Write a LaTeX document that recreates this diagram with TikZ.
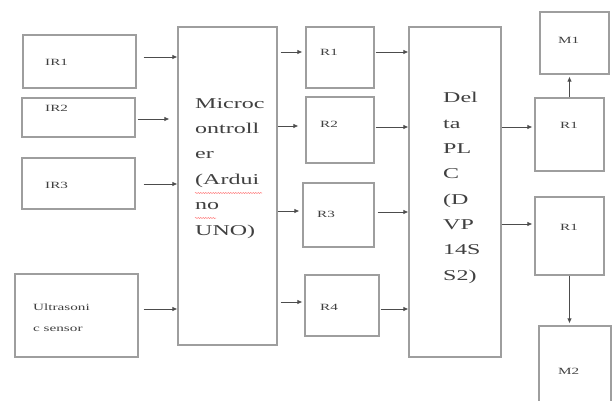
\documentclass[tikz,border=0pt]{standalone}
\usepackage{fontspec}
\setmainfont[FakeStretch=1.6]{Liberation Serif}
\usetikzlibrary{arrows.meta,decorations.pathmorphing}
\begin{document}
\begin{tikzpicture}[x=1pt,y=-1pt,
  box/.style={draw=black!38, line width=1.2pt, inner sep=0pt, fill=white},
  big/.style={inner sep=0pt, anchor=base west, align=left, text=black!75,
    font=\fontsize{15}{25.4}\selectfont},
  small/.style={inner sep=0pt, anchor=base west, align=left, text=black!75,
    font=\fontsize{9.5}{21}\selectfont},
  conn/.style={draw=black!70, line width=0.8pt, -{Latex[length=5pt,width=4.5pt]}},
  spell/.style={draw=red!55, line width=0.5pt, decorate,
    decoration={snake, amplitude=0.5pt, segment length=2.5pt}}]
\useasboundingbox (0,0) rectangle (613,401);
\clip (0,0) rectangle (613,401);
\fill[white] (0,0) rectangle (613,401);

% boxes
\node[box, minimum width=113pt, minimum height=53pt] (IR1) at (79.5,61.5) {};
\node[box, minimum width=113pt, minimum height=39pt] (IR2) at (78.5,117.5) {};
\node[box, minimum width=113pt, minimum height=51pt] (IR3) at (78.5,183.5) {};
\node[box, minimum width=123pt, minimum height=83pt] (US) at (76.5,315.5) {};
\node[box, minimum width=99pt, minimum height=318pt] (MC) at (227.5,186) {};
\node[box, minimum width=68pt, minimum height=61pt] (RA) at (340,57.5) {};
\node[box, minimum width=68pt, minimum height=66pt] (RB) at (340,130) {};
\node[box, minimum width=71pt, minimum height=64pt] (RC) at (338.5,215) {};
\node[box, minimum width=74pt, minimum height=61pt] (RD) at (342,305.5) {};
\node[box, minimum width=92pt, minimum height=330pt] (PLC) at (455,192) {};
\node[box, minimum width=69pt, minimum height=62pt] (M1) at (574.5,43) {};
\node[box, minimum width=69pt, minimum height=73pt] (RE) at (569.5,134.5) {};
\node[box, minimum width=69pt, minimum height=78pt] (RF) at (569.5,236) {};
\node[box, minimum width=72pt, minimum height=80pt] (M2) at (575,366) {};

% texts (base = baseline of the last line)
\node[small] (tIR1) at (45,66) {IR1};
\node[small] (tIR2) at (45,112) {IR2};
\node[small] (tIR3) at (45,188) {IR3};
\node[small] (tUS) at (33,331) {Ultrasoni\\c sensor};
\node[big] (tMC) at (195,235) {Microc\\ontroll\\er\\(Ardui\\no\\UNO)};
\node[small] (tRA) at (320,56) {R1};
\node[small] (tRB) at (320,128) {R2};
\node[small] (tRC) at (317,217) {R3};
\node[small] (tRD) at (320,310) {R4};
\node[big, font=\fontsize{15}{25.3}\selectfont] (tPLC) at (443,280) {Del\\ta\\PL\\C\\(D\\VP\\14S\\S2)};
\node[small] (tM1) at (558,44) {M1};
\node[small] (tRE) at (560,129) {R1};
\node[small] (tRF) at (560,230) {R1};
\node[small] (tM2) at (558,374) {M2};

% spell-check underlines
\draw[spell] (195,193) -- (262,193);
\draw[spell] (195,218) -- (216,218);

% connectors
\draw[conn, shorten <=7pt] (IR1.east |- 0,57) -- (MC.west |- 0,57);
\draw[conn, shorten <=2pt, shorten >=8pt] (IR2.east |- 0,119) -- (MC.west |- 0,119);
\draw[conn, shorten <=8pt] (IR3.east |- 0,184) -- (MC.west |- 0,184);
\draw[conn, shorten <=5pt] (US.east |- 0,309) -- (MC.west |- 0,309);
\draw[conn, shorten <=3pt, shorten >=3pt] (MC.east |- 0,52) -- (RA.west |- 0,52);
\draw[conn, shorten >=7pt] (MC.east |- 0,126) -- (RB.west |- 0,126);
\draw[conn, shorten >=3pt] (MC.east |- 0,211) -- (RC.west |- 0,211);
\draw[conn, shorten <=3pt, shorten >=2pt] (MC.east |- 0,302) -- (RD.west |- 0,302);
\draw[conn, shorten <=1pt] (RA.east |- 0,52) -- (PLC.west |- 0,52);
\draw[conn, shorten <=1pt] (RB.east |- 0,127) -- (PLC.west |- 0,127);
\draw[conn, shorten <=3pt] (RC.east |- 0,212) -- (PLC.west |- 0,212);
\draw[conn, shorten <=1pt] (RD.east |- 0,309) -- (PLC.west |- 0,309);
\draw[conn, shorten >=2pt] (PLC.east |- 0,127) -- (RE.west |- 0,127);
\draw[conn, shorten >=2pt] (PLC.east |- 0,224) -- (RF.west |- 0,224);
\draw[conn, shorten >=2pt] (RE.north) -- (M1.south -| RE.north);
\draw[conn, shorten >=2pt] (RF.south) -- (M2.north -| RF.south);
\end{tikzpicture}
\end{document}
